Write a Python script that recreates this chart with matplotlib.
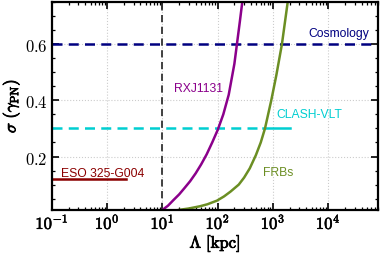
import matplotlib
matplotlib.use("Agg")
import matplotlib.pyplot as plt
import matplotlib.patheffects as pe
from matplotlib.ticker import MultipleLocator, LogLocator, FuncFormatter
import numpy as np

plt.rcParams['mathtext.fontset'] = 'cm'

# curves (Lambda in kpc, sigma)
rxj_lam = [10, 12.6, 15.8, 20, 25.1, 31.6, 39.8, 50.1, 63.1, 79.4, 100, 126, 158, 200, 251, 282]
rxj_sig = [0.01, 0.025, 0.045, 0.065, 0.088, 0.112, 0.14, 0.172, 0.208, 0.25, 0.295, 0.35, 0.42, 0.53, 0.68, 0.76]

frb_lam = [20, 30, 48, 65, 97, 130, 170, 240, 300, 380, 490, 600, 716, 930, 1150, 1450, 1830]
frb_sig = [0.01, 0.015, 0.023, 0.03, 0.043, 0.058, 0.075, 0.1, 0.125, 0.158, 0.205, 0.25, 0.3, 0.4, 0.49, 0.6, 0.745]

cosmo_sig = 0.6
clash_sig = 0.3
clash_lam = [0.1, 650, 2000]
eso_sig = 0.12
eso_lam = [0.1, 2.2]
lam_min = 10

label_font = 'Liberation Sans'
bold = [pe.withStroke(linewidth=0.6, foreground='black')]

fig = plt.figure(figsize=(3.82, 2.55), dpi=100)
ax = fig.add_axes([0.136, 0.173, 0.854, 0.815])

ax.axvline(lam_min, color='#333333', ls=(0, (4, 2.5)), lw=1.3)
ax.axhline(cosmo_sig, color='navy', ls=(0, (4, 2.5)), lw=1.8)
ax.plot(clash_lam[:2], [clash_sig] * 2, color='darkturquoise', ls=(0, (4, 2.5)), lw=1.8)
ax.plot(clash_lam[1:], [clash_sig] * 2, color='darkturquoise', lw=1.8)
ax.plot(eso_lam, [eso_sig] * 2, color='darkred', lw=1.8)
ax.plot(rxj_lam, rxj_sig, color='darkmagenta', lw=1.8)
ax.plot(frb_lam, frb_sig, color='olivedrab', lw=1.8)

kw = dict(fontsize=8.7, family=label_font, va='center')
ax.text(15500, 0.64, 'Cosmology', color='navy', ha='center', **kw)
ax.text(45, 0.445, 'RXJ1131', color='darkmagenta', ha='center', **kw)
ax.text(4460, 0.353, 'CLASH-VLT', color='darkturquoise', ha='center', **kw)
ax.text(1220, 0.145, 'FRBs', color='olivedrab', ha='center', **kw)
ax.text(0.145, 0.141, 'ESO 325-G004', color='darkred', ha='left', **kw)

ax.set_xscale('log')
ax.set_xlim(0.1, 8e4)
ax.set_ylim(0.01, 0.75)

ax.xaxis.set_major_locator(LogLocator(base=10, numticks=10))
ax.xaxis.set_minor_locator(LogLocator(base=10, subs=range(2, 10), numticks=20))
ax.xaxis.set_major_formatter(FuncFormatter(lambda v, p: r'$10^{%d}$' % round(np.log10(v))))
ax.yaxis.set_major_locator(MultipleLocator(0.2))
ax.yaxis.set_minor_locator(MultipleLocator(0.05))
ax.yaxis.set_major_formatter(FuncFormatter(lambda v, p: r'$\mathbf{%.1f}$' % v))

ax.tick_params(which='both', direction='in', top=True, right=True, labelsize=12, width=1.2)
ax.tick_params(which='major', length=5, pad=3)
ax.tick_params(which='minor', length=2.5, width=0.9)
for s in ax.spines.values():
    s.set_linewidth(1.6)
for t in ax.get_xticklabels():
    t.set_path_effects([pe.withStroke(linewidth=0.4, foreground='black')])

ax.grid(True, which='major', color='#cccccc', ls=':', lw=0.8)
ax.set_axisbelow(True)

ax.set_xlabel(r'$\Lambda\ [{\rm kpc}]$', fontsize=12, labelpad=0, path_effects=bold)
ax.set_ylabel(r'$\sigma\ (\gamma_{\rm PN})$', fontsize=12, labelpad=2, path_effects=bold)

fig.savefig('out.png', dpi=100)
